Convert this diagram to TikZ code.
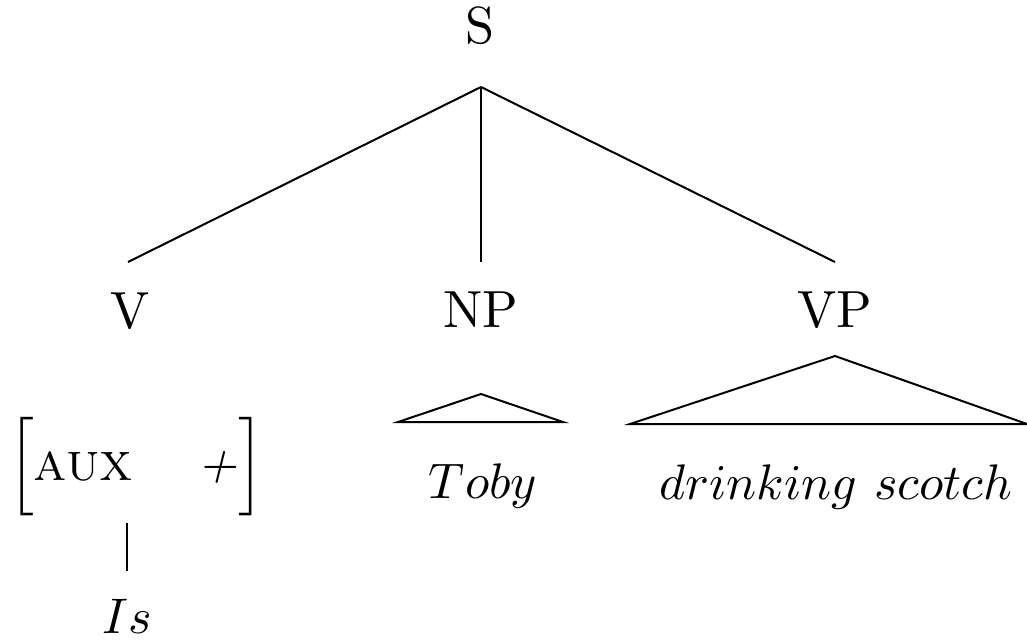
\documentclass[tikz,border=0pt]{standalone}
\usepackage{amsmath}
\newcommand{\bigbrk}[1]{{\fontsize{10.9}{13}\selectfont$\Big#1$}}
\begin{document}
\begin{tikzpicture}[x=0.2pt,y=-0.2pt,line width=0.4pt,
  lab/.style={anchor=base,inner sep=0pt,outer sep=0pt,font=\fontsize{10.45}{12}\selectfont}]
\useasboundingbox (0,0) rectangle (1027,640);
% labels
\node[lab] (S) at (480,44) {S};
\node[lab] (V) at (130,328) {V};
\node[lab] (NP) at (480.5,327) {NP};
\node[lab] (VP) at (834.5,327) {VP};
\node[lab] (avm) at (136,480) {\bigbrk[{\fontsize{10.9}{13}\selectfont\textsc{aux}}\hspace{13pt}\textit{+}\bigbrk]};
\node[lab] (Is) at (127,633) {$Is$};
\node[lab] (Toby) at (483,498) {$Toby$};
\node[lab] (dr) at (836,499) {$drinking\ scotch$};
% connector points
\coordinate (Sb) at (481,87);
\coordinate (Vt) at (128,262);
\coordinate (NPt) at (481,262);
\coordinate (VPt) at (835,262);
\draw (Sb) -- (Vt);
\draw (Sb) -- (NPt);
\draw (Sb) -- (VPt);
\coordinate (avmb) at (127,523);
\coordinate (Ist) at (127,571);
\draw (avmb) -- (Ist);
% triangles
\coordinate (npa) at (481,394);
\coordinate (npl) at (398,422);
\coordinate (npr) at (563,422);
\draw (npa) -- (npl) -- (npr) -- cycle;
\coordinate (vpa) at (835,356);
\coordinate (vpl) at (630,424);
\coordinate (vpr) at (1027,424);
\draw (vpa) -- (vpl) -- (vpr) -- cycle;
\end{tikzpicture}
\end{document}
